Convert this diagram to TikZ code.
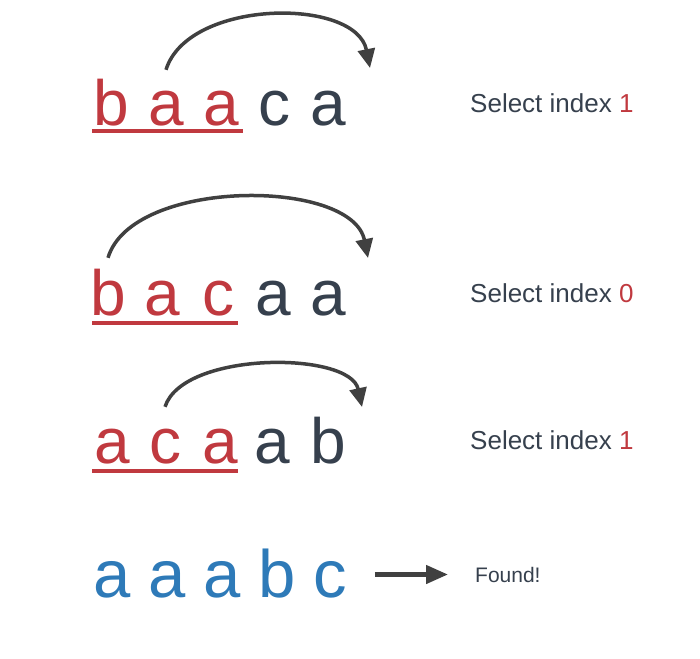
\documentclass[tikz,border=0pt]{standalone}
\usepackage{fontspec}
\setmainfont{Liberation Sans}
\usepackage{xcolor}
\usetikzlibrary{arrows.meta}
\definecolor{pickred}{RGB}{192,57,63}
\definecolor{slate}{RGB}{54,64,77}
\definecolor{doneblue}{RGB}{46,122,184}
\definecolor{arrowgray}{RGB}{64,64,64}

\tikzset{
  letter/.style={inner sep=0pt, anchor=base, text height=46pt, font=\fontsize{64}{64}\selectfont},
  picked/.style={letter, text=pickred},
  rest/.style={letter, text=slate},
  done/.style={letter, text=doneblue, font=\fontsize{67}{67}\selectfont},
  note/.style={inner sep=0pt, anchor=base west, text=slate, font=\fontsize{26}{26}\selectfont},
  uline/.style={pickred, line width=4pt},
  jump/.style={arrowgray, line width=3.5pt, -{Triangle[length=19pt,width=17pt]}},
  pointer/.style={arrowgray, line width=4.5pt, -{Triangle[length=22pt,width=18pt]}}
}

\begin{document}
\begin{tikzpicture}[x=1pt,y=-1pt]
\useasboundingbox (0,0) rectangle (700,658);

% Row 1: b a a c a
\node[picked] (r1n1) at (111,125) {b};
\node[picked] (r1n2) at (166,125) {a};
\node[picked] (r1n3) at (221,125) {a};
\node[rest]   (r1n4) at (274,125) {c};
\node[rest]   (r1n5) at (328,125) {a};
\draw[uline] (92,131) -- (243,131);
\coordinate (r1end) at (370,68);
\draw[jump] ([yshift=9pt]r1n2.north) .. controls +(22,-71) and +(-14,-71) .. (r1end);
\node[note] (r1txt) at (470,112) {Select index {\color{pickred}1}};

% Row 2: b a c a a
\node[picked] (r2n1) at (108,315) {b};
\node[picked] (r2n2) at (162,315) {a};
\node[picked] (r2n3) at (218,315) {c};
\node[rest]   (r2n4) at (273,315) {a};
\node[rest]   (r2n5) at (328,315) {a};
\draw[uline] (92,323) -- (238,323);
\coordinate (r2end) at (368,258);
\draw[jump] ([yshift=11pt]r2n1.north) .. controls +(24,-80) and +(-16,-80) .. (r2end);
\node[note] (r2txt) at (470,302) {Select index {\color{pickred}0}};

% Row 3: a c a a b
\node[picked] (r3n1) at (112,463) {a};
\node[picked] (r3n2) at (165,463) {c};
\node[picked] (r3n3) at (220,463) {a};
\node[rest]   (r3n4) at (272,463) {a};
\node[rest]   (r3n5) at (328,463) {b};
\draw[uline] (92,471) -- (238,471);
\coordinate (r3end) at (362,407);
\draw[jump] ([yshift=10pt]r3n2.north) .. controls +(18,-56) and +(-12,-56) .. (r3end);
\node[note] (r3txt) at (470,449) {Select index {\color{pickred}1}};

% Row 4: sorted result
\node[done] (r4n1) at (112,597) {a};
\node[done] (r4n2) at (167,597) {a};
\node[done] (r4n3) at (222,597) {a};
\node[done] (r4n4) at (277,597) {b};
\node[done] (r4n5) at (330,597) {c};
\node[note, font=\fontsize{21}{21}\selectfont] (found) at (475,582) {Found!};
\draw[pointer, shorten <=28pt, shorten >=27pt] (r4n5.east |- found.west) -- (found.west);

\end{tikzpicture}
\end{document}
